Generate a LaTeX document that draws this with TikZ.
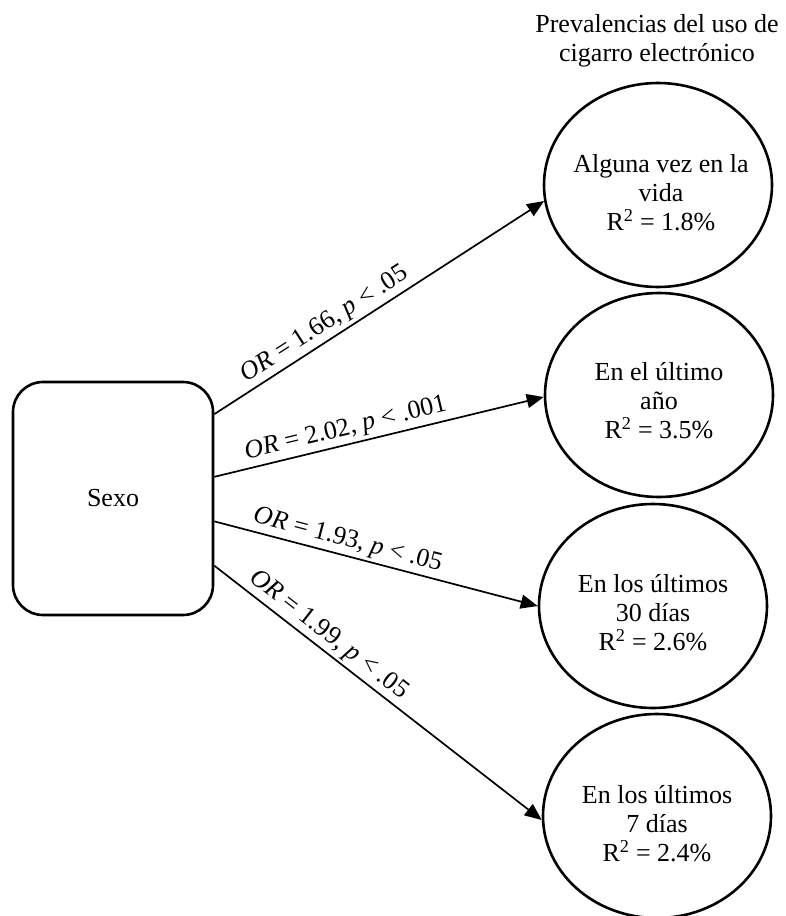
\documentclass[tikz,border=0pt]{standalone}
\usepackage{fontspec}
\setmainfont{Liberation Serif}
\usetikzlibrary{arrows.meta,shapes.geometric,calc}
\begin{document}
\begin{tikzpicture}[x=1pt,y=-1pt,
  every node/.style={font=\fontsize{26}{29}\selectfont},
  outcome/.style={draw, line width=2.6pt, ellipse, minimum width=228pt, minimum height=204pt, inner sep=0pt},
  factor/.style={draw, line width=2.6pt, rounded corners=30pt, minimum width=200pt, minimum height=233pt},
  effect/.style={line width=1.7pt, -{Triangle[length=17pt,width=14pt]}},
  coef/.style={sloped, above=1pt, inner sep=2pt},
  heading/.style={align=center, inner sep=0pt}]
\useasboundingbox (0,0) rectangle (786,916);

% predictor
\node[factor] (sexo) at (113,498.5) {Sexo};

% outcome block title
\node[heading] (title) at (657,41) {Prevalencias del uso de\\cigarro electrónico};

% outcomes
\node[outcome] (e1) at (658,185) {};
\node[outcome] (e2) at (659,395) {};
\node[outcome] (e3) at (653,606) {};
\node[outcome] (e4) at (657,816) {};

\node[heading] (t1) at ($(e1)+(3,8)$) {Alguna vez en la\\vida\\R\textsuperscript{2} = 1.8\%};
\node[heading] (t2) at ($(e2)+(0,6)$) {En el último\\año\\R\textsuperscript{2} = 3.5\%};
\node[heading] (t3) at ($(e3)+(0,7)$) {En los últimos\\30 días\\R\textsuperscript{2} = 2.6\%};
\node[heading] (t4) at ($(e4)+(0,8)$) {En los últimos\\7 días\\R\textsuperscript{2} = 2.4\%};

% effects
\draw[effect] ($(sexo.north east)!0.142!(sexo.south east)$) -- (e1.188)
  node[coef, pos=0.36] {\textit{OR} = 1.66, \textit{p} < .05};
\draw[effect] ($(sexo.north east)!0.408!(sexo.south east)$) -- (e2.181)
  node[coef, pos=0.41] {\textit{OR} = 2.02, \textit{p} < .001};
\draw[effect] ($(sexo.north east)!0.597!(sexo.south east)$) -- (e3.west)
  node[coef, pos=0.40] {\textit{OR} = 1.93, \textit{p} < .05};
\draw[effect] ($(sexo.north east)!0.785!(sexo.south east)$) -- (e4.182)
  node[coef, pos=0.32] {\textit{OR} = 1.99, \textit{p} < .05};
\end{tikzpicture}
\end{document}
